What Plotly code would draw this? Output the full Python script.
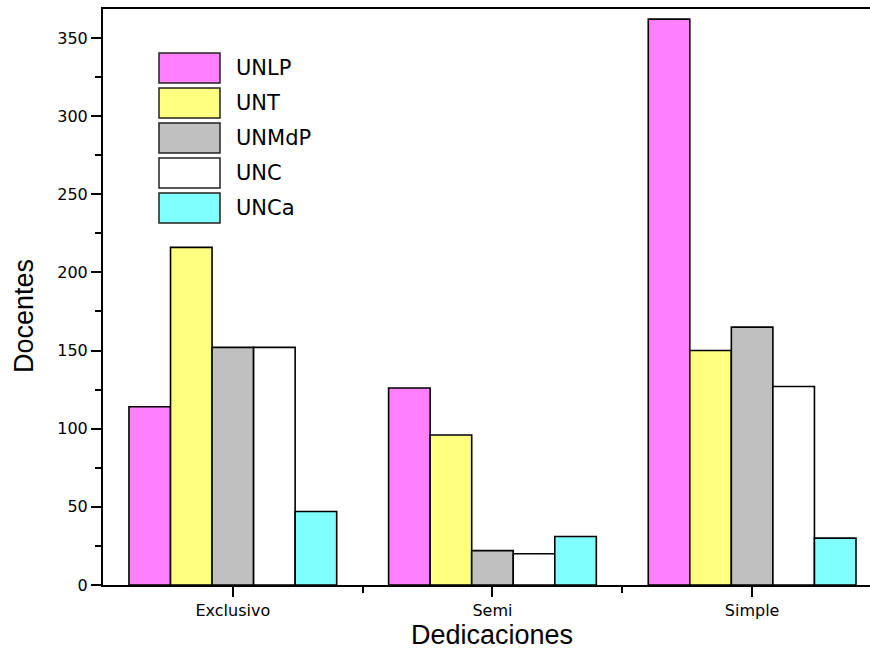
import plotly.graph_objects as go

categories = ["Exclusivo", "Semi", "Simple"]
series_names = ["UNLP", "UNT", "UNMdP", "UNC", "UNCa"]
unlp = [114, 126, 362]
unt = [216, 96, 150]
unmdp = [152, 22, 165]
unc = [152, 20, 127]
unca = [47, 31, 30]
colors = ["#FF80FF", "#FFFF80", "#C0C0C0", "#FFFFFF", "#80FFFF"]
y_ticks = [0, 50, 100, 150, 200, 250, 300, 350]

values = [unlp, unt, unmdp, unc, unca]
xpos = list(range(len(categories)))
BW = 0.16

fig = go.Figure()
for i, (name, vals, col) in enumerate(zip(series_names, values, colors)):
    fig.add_trace(go.Bar(
        x=xpos, y=vals, name=name,
        width=BW,
        offset=-2.5 * BW + i * BW,
        marker=dict(color=col, line=dict(color="black", width=1.6)),
        showlegend=False,
    ))

# plot area in page pixels
L, R, T, B = 103, 870, 9, 585
FW, FH = 870, 652

def px_x(p):
    return (p - L) / (R - L)

def px_y(p):
    return (B - p) / (B - T)

shapes = []
annotations = []
for i, (name, col) in enumerate(zip(series_names, colors)):
    top = 53 + i * 35
    shapes.append(dict(type="rect", xref="paper", yref="paper",
                       x0=px_x(159), x1=px_x(220), y0=px_y(top + 30), y1=px_y(top),
                       fillcolor=col, line=dict(color="#222", width=1.5)))
    annotations.append(dict(xref="paper", yref="paper", x=px_x(234), y=px_y(top + 15),
                            text=name, showarrow=False, xanchor="left", yanchor="middle",
                            font=dict(family="DejaVu Sans", size=21, color="black")))

annotations.append(dict(xref="x", yref="paper", x=1, y=px_y(635), text="Dedicaciones",
                        showarrow=False, xanchor="center", yanchor="middle",
                        font=dict(family="Liberation Sans", size=27, color="black")))
annotations.append(dict(xref="paper", yref="paper", x=px_x(24), y=px_y(316), text="Docentes",
                        showarrow=False, xanchor="center", yanchor="middle", textangle=-90,
                        font=dict(family="Liberation Sans", size=27, color="black")))

fig.update_layout(
    width=FW, height=FH,
    margin=dict(l=L, r=FW - R, t=T, b=FH - B, autoexpand=False),
    paper_bgcolor="white", plot_bgcolor="white",
    barmode="overlay",
    shapes=shapes, annotations=annotations,
    xaxis=dict(range=[-0.5, 2.454], tickvals=xpos, ticktext=categories,
               showgrid=False, zeroline=False,
               showline=True, linecolor="black", linewidth=2, mirror=True,
               ticks="outside", ticklen=10, tickwidth=2, tickcolor="black",
               tickfont=dict(family="DejaVu Sans", size=16, color="black"),
               minor=dict(tickvals=[0.5, 1.5], ticks="outside", ticklen=6,
                          tickwidth=2, tickcolor="black")),
    yaxis=dict(range=[0, 368.5], tickvals=y_ticks,
               showgrid=False, zeroline=False,
               showline=True, linecolor="black", linewidth=2, mirror=False,
               ticks="outside", ticklen=10, tickwidth=2, tickcolor="black",
               tickfont=dict(family="DejaVu Sans", size=16, color="black"),
               minor=dict(dtick=25, ticks="outside", ticklen=6, tickwidth=2,
                          tickcolor="black")),
)

fig.write_html(
    "out.html",
    config={"displayModeBar": False},
    post_script="document.body.style.margin='0';document.documentElement.style.overflow='hidden';document.body.style.overflow='hidden';",
)
